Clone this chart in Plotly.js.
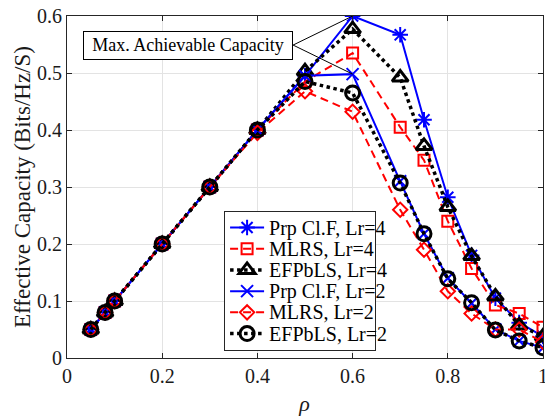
<!DOCTYPE html>
<html>
<head>
<meta charset="utf-8">
<script src="https://cdn.plot.ly/plotly-3.0.1.min.js"></script>
<style>
html,body{margin:0;padding:0;background:#fff;}
#wrap{position:relative;width:545px;height:419px;overflow:hidden;}
#callout{position:absolute;left:83px;top:31px;width:208px;height:27px;border:1px solid #000;background:#fff;
  font-family:'Liberation Serif', 'Times New Roman', serif;font-size:18px;line-height:27px;text-align:center;color:#000;z-index:5;white-space:nowrap;}
</style>
</head>
<body>
<div id="wrap">
<div id="callout"></div>
<div id="chart"></div>
</div>
<script>
// ---- data ----
const rho = [0.05, 0.08, 0.1, 0.2, 0.3, 0.4, 0.5, 0.6, 0.7, 0.75, 0.8, 0.85, 0.9, 0.95, 1.0];
const prpLr4   = [0.05, 0.08, 0.1, 0.2, 0.3, 0.4, 0.495, 0.600, 0.567, 0.418, 0.282, 0.180, 0.105, 0.062, 0.038];
const mlrsLr4  = [0.05, 0.08, 0.1, 0.2, 0.3, 0.4, 0.485, 0.535, 0.405, 0.347, 0.240, 0.157, 0.093, 0.078, 0.054];
const efpLr4   = [0.05, 0.08, 0.1, 0.2, 0.3, 0.4, 0.503, 0.577, 0.492, 0.372, 0.265, 0.179, 0.108, 0.057, 0.038];
const prpLr2   = [0.05, 0.08, 0.1, 0.2, 0.3, 0.4, 0.495, 0.498, 0.310, 0.218, 0.140, 0.096, 0.050, 0.030, 0.018];
const mlrsLr2  = [0.05, 0.08, 0.1, 0.2, 0.3, 0.395, 0.468, 0.432, 0.260, 0.190, 0.117, 0.078, 0.050, 0.050, 0.028];
const efpLr2   = [0.05, 0.08, 0.1, 0.2, 0.3, 0.4, 0.485, 0.465, 0.307, 0.218, 0.139, 0.097, 0.049, 0.030, 0.018];
const seriesNames = ['Prp Cl.F, Lr=4', 'MLRS, Lr=4', 'EFPbLS, Lr=4', 'Prp Cl.F, Lr=2', 'MLRS, Lr=2', 'EFPbLS, Lr=2'];
const xTickVals = [0, 0.2, 0.4, 0.6, 0.8, 1];
const xTickText = ['0', '0.2', '0.4', '0.6', '0.8', '1'];
const yTickVals = [0, 0.1, 0.2, 0.3, 0.4, 0.5, 0.6];
const yTickText = ['0', '0.1', '0.2', '0.3', '0.4', '0.5', '0.6'];
const calloutText = 'Max. Achievable Capacity';
const xTitle = '\u03C1';
const yTitle = 'Effective Capacity (Bits/Hz/S)';

document.getElementById('callout').textContent = calloutText;

// ---- styles ----
const BLUE = '#0000FF', RED = '#FF0000', BLACK = '#000000';
const FONT = 'Liberation Serif, serif';
const TXT = '#1a1a1a';
function nm(s){ return '<span style="font-size:17px">' + s + '</span>'; }

const traces = [
  {y: prpLr4, name: seriesNames[0], line: {color: BLUE, width: 2, dash: 'solid'},
   marker: {symbol: 'asterisk-open', size: 13, line: {color: BLUE, width: 2}}},
  {y: mlrsLr4, name: seriesNames[1], line: {color: RED, width: 2, dash: '8px,5px'},
   marker: {symbol: 'square-open', size: 11, color: RED, line: {color: RED, width: 2}}},
  {y: efpLr4, name: seriesNames[2], line: {color: BLACK, width: 3.5, dash: 'dot'},
   marker: {symbol: 'triangle-up-open', size: 14, color: BLACK, line: {color: BLACK, width: 3}}},
  {y: prpLr2, name: seriesNames[3], line: {color: BLUE, width: 2, dash: 'solid'},
   marker: {symbol: 'x-thin-open', size: 12, line: {color: BLUE, width: 2}}},
  {y: mlrsLr2, name: seriesNames[4], line: {color: RED, width: 2, dash: '8px,5px'},
   marker: {symbol: 'diamond-open', size: 11, color: RED, line: {color: RED, width: 2}}},
  {y: efpLr2, name: seriesNames[5], line: {color: BLACK, width: 3.5, dash: 'dot'},
   marker: {symbol: 'circle-open', size: 14, color: BLACK, line: {color: BLACK, width: 3}}}
].map(t => Object.assign({x: rho, type: 'scatter', mode: 'lines+markers'}, t, {name: nm(t.name)}));

const axisCommon = {
  showline: true, mirror: 'ticks', linecolor: '#262626', linewidth: 1,
  ticks: 'inside', ticklen: 5, tickcolor: '#262626', tickwidth: 1,
  showgrid: true, gridcolor: '#e3e3e3', gridwidth: 1, zeroline: false,
  tickfont: {family: FONT, size: 20, color: TXT}, tickmode: 'array',
  ticklabeloverflow: 'allow'
};

const layout = {
  width: 545, height: 419,
  margin: {l: 67, r: 2, t: 16, b: 61},
  paper_bgcolor: '#fff', plot_bgcolor: '#fff',
  font: {family: FONT, color: TXT},
  showlegend: true,
  xaxis: Object.assign({}, axisCommon, {
    range: [0, 1], tickvals: xTickVals, ticktext: xTickText,
    title: {text: '<i>' + xTitle + '</i>', font: {family: FONT, size: 22, color: TXT}, standoff: 10}
  }),
  yaxis: Object.assign({}, axisCommon, {
    range: [0, 0.6], tickvals: yTickVals, ticktext: yTickText,
    title: {text: yTitle, font: {family: FONT, size: 23, color: TXT}, standoff: 0}
  }),
  legend: {
    x: 0.33, y: 0.43, xanchor: 'left', yanchor: 'top',
    bgcolor: '#fff', bordercolor: '#262626', borderwidth: 1,
    font: {family: FONT, size: 14, color: '#000'},
    itemwidth: 34, tracegroupgap: 0, itemsizing: 'trace', itemclick: false
  },
  shapes: [
    {type: 'line', xref: 'x', yref: 'y', x0: 0.475, y0: 0.549, x1: rho[7], y1: prpLr4[7], line: {color: '#000', width: 1}},
    {type: 'line', xref: 'x', yref: 'y', x0: 0.475, y0: 0.549, x1: rho[7], y1: prpLr2[7], line: {color: '#000', width: 1}}
  ]
};

Plotly.newPlot('chart', traces, layout, {displayModeBar: false, staticPlot: true}).then(function(gd){
  // re-set the SVG texts as HTML text in the serif face, at the places Plotly laid them out
  try {
    var wrap = document.getElementById('wrap');
    var wr = wrap.getBoundingClientRect();
    var texts = Array.prototype.slice.call(gd.querySelectorAll('svg text'));
    texts.forEach(function(t){
      var s = t.textContent;
      if (!s || !s.trim()) return;
      var r = t.getBoundingClientRect();
      if (!r || r.width === 0) return;
      var inLegend = !!t.closest('.legend');
      var inner = t.querySelector('tspan') || t;
      var fs = inLegend ? 20 : parseFloat(getComputedStyle(t).fontSize);
      var italic = getComputedStyle(inner).fontStyle === 'italic';
      var anchor = t.getAttribute('text-anchor') || 'start';
      var rot = /rotate\(\s*-90/.test(t.getAttribute('transform') || '');
      var d = document.createElement('div');
      d.textContent = s;
      d.style.cssText = 'position:absolute;white-space:nowrap;line-height:1;font-family:"Liberation Serif","Times New Roman",serif;z-index:4;pointer-events:none;';
      d.style.fontSize = fs + 'px';
      d.style.color = inLegend ? '#000' : TXT;
      if (italic) d.style.fontStyle = 'italic';
      var cy = r.top + r.height / 2 - wr.top;
      var cx = r.left + r.width / 2 - wr.left;
      if (rot) {
        d.style.left = cx + 'px'; d.style.top = cy + 'px';
        d.style.transform = 'translate(-50%,-50%) rotate(-90deg)';
      } else if (anchor === 'end') {
        d.style.left = (r.right - wr.left) + 'px'; d.style.top = cy + 'px';
        d.style.transform = 'translate(-100%,-50%)';
      } else if (anchor === 'middle') {
        d.style.left = cx + 'px'; d.style.top = cy + 'px';
        d.style.transform = 'translate(-50%,-50%)';
      } else {
        d.style.left = (r.left - wr.left) + 'px'; d.style.top = cy + 'px';
        d.style.transform = 'translate(0,-50%)';
      }
      wrap.appendChild(d);
      t.parentNode.removeChild(t);
    });
  } catch (e) { /* keep Plotly's own texts if anything fails */ }
});
</script>
</body>
</html>
